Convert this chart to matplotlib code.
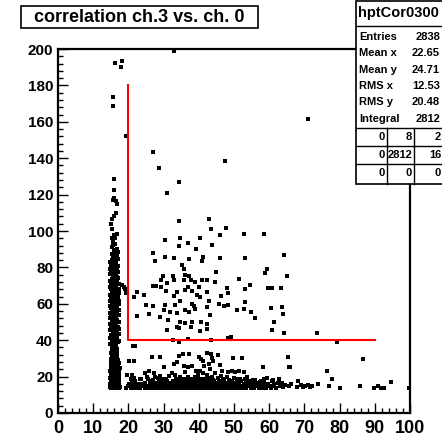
import numpy as np
import matplotlib
matplotlib.use("Agg")
import matplotlib.pyplot as plt
from matplotlib.patches import Rectangle
from matplotlib.lines import Line2D

plt.rcParams["font.family"] = ["Liberation Sans", "DejaVu Sans"]
plt.rcParams["font.weight"] = "bold"

W, H = 442, 438

# ── texts ──────────────────────────────────────────────────────────────────
title = "correlation ch.3 vs. ch. 0"
stats_name = "hptCor0300"
stats_labels = ["Entries", "Mean x", "Mean y", "RMS x", "RMS y", "Integral"]
stats_values = ["2838", "22.65", "24.71", "12.53", "20.48", "2812"]
overflow_table = [["0", "8", "2"], ["0", "2812", "16"], ["0", "0", "0"]]

x_ticks = list(range(0, 101, 10))
y_ticks = list(range(0, 201, 20))

# red cut line (L shape)
cut_x = [20, 20, 90]
cut_y = [180, 40, 40]

# ── scatter points ─────────────────────────────────────────────────────────
# dense column near x ~ 16, bottom part, rows of (y, [x ...])
column_rows = [
    (13.8, [15.0, 15.8, 16.6, 17.3]),
    (14.5, [14.8, 15.5, 16.2, 17.0, 17.6]),
    (15.3, [15.2, 16.0, 16.8]),
    (16.1, [14.9, 15.7, 16.4, 17.2]),
    (16.9, [15.3, 16.1, 16.9]),
    (17.8, [15.0, 15.8, 16.6, 17.4]),
    (18.6, [15.4, 16.2, 17.0]),
    (19.5, [14.9, 15.7, 16.5, 17.3]),
    (20.3, [15.3, 16.1, 16.9]),
    (21.2, [15.0, 15.8, 16.6, 17.4]),
    (22.0, [15.4, 16.2, 17.0]),
    (22.9, [14.9, 15.7, 16.5, 17.2]),
    (23.7, [15.3, 16.1, 16.8]),
    (24.6, [15.0, 15.8, 16.6, 17.5]),
    (25.4, [15.4, 16.3, 17.0]),
    (26.3, [15.1, 15.9, 16.7]),
    (27.2, [15.5, 16.3, 17.1]),
    (28.0, [15.0, 15.8, 16.6]),
    (28.9, [15.4, 16.2, 17.0]),
    (29.7, [15.1, 15.9, 16.7]),
    (30.6, [15.5, 16.4]),
    (31.5, [15.2, 16.0, 16.8]),
    (32.3, [15.6, 16.5]),
    (33.2, [15.1, 15.9, 16.9]),
    (34.0, [15.5, 16.3]),
    (34.9, [15.2, 16.1, 16.8]),
    (35.8, [15.6, 16.4]),
]

column_pts = [
    (15.3, 36.8), (16.6, 37.4), (15.9, 38.3), (17.1, 38.9), (15.2, 39.6),
    (16.3, 40.4), (15.7, 41.3), (16.9, 41.8), (15.1, 42.7), (16.0, 43.2),
    (16.7, 44.1), (15.5, 44.9), (16.2, 45.8), (15.0, 46.6), (17.0, 47.1),
    (15.8, 47.9), (16.5, 48.8), (15.3, 49.5), (16.1, 50.3), (16.9, 51.0),
    (15.6, 51.8), (15.1, 52.9), (16.4, 53.4), (15.9, 54.3), (16.8, 55.1),
    (15.4, 55.9), (16.2, 56.8), (15.0, 57.6), (15.8, 58.3), (16.6, 59.1),
    (15.3, 60.0), (16.1, 60.8), (17.2, 61.4), (15.6, 62.2), (16.4, 63.1),
    (15.1, 63.9), (15.9, 64.6), (16.8, 65.3), (15.4, 66.2), (16.2, 67.0),
    (15.0, 67.9), (17.4, 68.3), (15.7, 68.8), (16.5, 69.6), (15.3, 70.4),
    (16.1, 71.3), (15.8, 72.1), (16.7, 72.8), (15.2, 73.7), (16.0, 74.5),
    (15.5, 75.4), (16.4, 76.2), (15.1, 77.0), (15.9, 77.9), (16.6, 78.6),
    (15.4, 79.5), (16.2, 80.3), (15.0, 81.1), (15.7, 82.0), (16.5, 82.6),
    (15.3, 83.5), (16.0, 84.4), (15.6, 85.2), (16.8, 86.0),
    (16.0, 36.5), (15.6, 39.0), (16.9, 40.0), (15.5, 42.0), (16.4, 43.0),
    (15.9, 45.3), (16.6, 46.8), (15.4, 48.2), (16.0, 49.8), (15.3, 51.4),
    (16.6, 52.5), (15.7, 53.9), (16.1, 55.5), (15.2, 56.3), (16.9, 57.7),
    (15.7, 59.6), (16.3, 61.8), (15.8, 63.4), (16.5, 64.8), (15.6, 67.4),
    (16.3, 68.9), (15.0, 70.9), (16.4, 73.4), (15.7, 75.9), (16.3, 77.5),
    (15.6, 80.8), (16.6, 81.7), (15.2, 84.0),
    (14.8, 37.9), (17.4, 39.4), (14.9, 41.0), (17.3, 43.6), (14.8, 45.8),
    (17.2, 46.0), (14.9, 48.9), (17.4, 50.1), (14.8, 52.0), (17.3, 53.8),
    (14.9, 55.2), (17.2, 56.4), (14.8, 58.9), (17.4, 59.9), (14.9, 61.5),
    (17.1, 63.6), (14.8, 65.0), (17.3, 66.0), (14.9, 69.2), (17.2, 70.8),
    (14.8, 72.6), (17.0, 74.0), (14.9, 76.1), (17.1, 77.2), (14.8, 79.0),
    (17.0, 80.9), (14.9, 83.0), (17.1, 84.6), (16.0, 39.7), (16.3, 47.5),
    (15.8, 50.9), (16.2, 58.0), (15.5, 61.0), (16.7, 62.5), (15.9, 66.2),
    (16.9, 67.7), (15.5, 71.9), (16.8, 75.0), (15.4, 78.2), (16.9, 79.8),
    (16.1, 83.3), (15.9, 86.6),
    (15.4, 87.1), (16.3, 88.0), (17.1, 88.6), (15.8, 89.4), (16.9, 90.2),
    (15.2, 91.3), (15.6, 92.3), (16.1, 92.6), (15.7, 94.0), (16.2, 96.0),
    (16.8, 98.4), (15.3, 96.1), (16.0, 97.8), (15.4, 101.1), (15.1, 103.8),
    (15.4, 106.6), (15.8, 108.0), (16.5, 110.1), (16.7, 114.7), (16.5, 116.5),
    (16.0, 118.0), (15.6, 117.3), (15.8, 122.5), (15.9, 128.4),
    (15.5, 168.5), (15.6, 173.5), (16.2, 192.5), (18.3, 193.2), (17.8, 190.1),
    (19.3, 152.0), (18.1, 70.3), (18.8, 69.4), (19.0, 68.0), (19.3, 65.8),
    (17.4, 27.7),
]

# dense band along the bottom, rows of (y, [x ...])
band_rows = [
    (13.9, [19.4, 20.6, 21.5, 22.7, 23.4, 24.6, 25.3, 26.2, 27.1, 27.9, 28.8,
            29.5, 30.3, 31.0, 31.8, 32.5, 33.3, 34.0, 34.8, 35.5, 36.3, 37.0,
            37.8, 38.5, 39.3, 40.0, 40.8, 41.6, 42.3, 43.1, 43.9, 44.6, 45.4,
            46.2, 47.0, 47.9, 48.7, 49.6, 50.5, 51.6, 52.4, 53.5, 54.7, 55.6,
            57.0, 58.3, 59.1, 60.4, 61.8]),
    (14.8, [19.9, 21.1, 22.3, 23.9, 25.0, 25.9, 26.8, 27.6, 28.4, 29.1, 29.9,
            30.7, 31.4, 32.2, 32.9, 33.7, 34.4, 35.2, 35.9, 36.7, 37.4, 38.2,
            38.9, 39.7, 40.4, 41.2, 41.9, 42.7, 43.5, 44.2, 45.0, 45.8, 46.6,
            47.5, 48.3, 49.2, 50.1, 51.1, 52.0, 53.0, 54.1, 55.2, 56.4, 57.6,
            58.8, 60.0, 61.2, 63.0]),
    (15.7, [20.3, 21.8, 23.1, 24.2, 26.5, 27.3, 28.1, 29.7, 30.5, 31.2, 32.0,
            32.8, 33.5, 34.2, 35.0, 35.7, 36.5, 37.2, 38.0, 38.7, 39.5, 40.2,
            41.0, 41.7, 42.5, 43.3, 44.0, 44.8, 45.6, 46.4, 47.3, 48.1, 49.0,
            50.3, 51.5, 52.7, 54.0, 55.9, 57.2, 59.6, 61.5]),
    (16.6, [21.0, 24.8, 26.0, 27.8, 29.0, 30.1, 31.5, 32.4, 33.9, 34.7, 35.3,
            36.1, 37.6, 38.3, 39.1, 39.9, 40.6, 41.4, 42.1, 43.0, 43.8, 44.5,
            45.3, 46.1, 47.7, 48.6, 50.0, 51.2, 53.3, 55.0, 56.8, 58.5, 62.6]),
    (17.6, [22.0, 26.6, 28.6, 30.9, 32.7, 34.6, 36.0, 37.3, 38.8, 40.3, 41.5,
            42.9, 44.4, 45.7, 47.2, 49.4, 52.1, 54.4, 57.8, 60.9]),
    (18.5, [20.8, 23.7, 25.6, 29.8, 33.4, 36.6, 39.6, 41.9, 43.6, 46.8, 50.8,
            53.0]),
]

# scattered points below the cut (y < 40) and the right-hand tail
low_pts = [
    (21.2, 36.6), (21.9, 36.6), (20.2, 28.8), (21.6, 28.8), (26.8, 30.8),
    (29.1, 31.0), (34.5, 31.5), (35.5, 32.4), (37.2, 32.4), (40.0, 31.0),
    (40.5, 29.9), (41.1, 28.8), (42.3, 32.8), (43.4, 32.6), (45.5, 31.7),
    (43.7, 30.4), (43.9, 28.8), (49.7, 30.0), (52.3, 30.0), (65.2, 31.0),
    (65.8, 25.1), (58.2, 25.5), (19.6, 20.9), (21.1, 20.9), (24.7, 21.8),
    (25.9, 22.9), (27.4, 22.0), (30.0, 25.1), (32.9, 26.7), (33.8, 28.2),
    (35.9, 25.6), (37.0, 25.5), (38.0, 25.8), (39.3, 23.3), (40.2, 22.9),
    (41.5, 25.8), (43.0, 26.7), (43.3, 24.2), (46.0, 26.4), (46.6, 22.9),
    (48.4, 22.7), (49.5, 22.9), (50.4, 22.3), (51.4, 23.1), (52.9, 22.5),
    (48.1, 20.0), (48.6, 18.1), (47.7, 16.3), (27.6, 20.0), (28.5, 19.0),
    (29.5, 18.1), (32.3, 21.8), (33.2, 20.9), (34.7, 20.0), (36.1, 22.7),
    (37.0, 20.0), (38.2, 18.5), (39.9, 21.1), (41.3, 21.8), (42.2, 20.9),
    (43.7, 20.0), (44.6, 22.2), (45.5, 19.0), (56.0, 18.1), (57.4, 17.2),
    (59.3, 19.0), (62.8, 18.5), (63.5, 16.3), (68.1, 17.8), (69.5, 14.5),
    (21.5, 19.5), (23.2, 18.6), (25.4, 19.8), (27.0, 18.4), (28.9, 20.6),
    (30.8, 18.9), (31.6, 20.2), (35.4, 18.7), (36.9, 19.3), (38.9, 19.6),
    (40.7, 18.6), (42.8, 19.1), (44.1, 18.4), (46.3, 20.3), (47.3, 18.8),
    (49.9, 19.4), (51.6, 18.6), (53.8, 19.8), (55.3, 18.3), (58.6, 18.9),
    (61.2, 17.9), (32.7, 40.1), (34.4, 38.8), (37.0, 40.8), (43.5, 40.1),
    (63.8, 14.2), (64.5, 15.5), (65.5, 14.8), (66.3, 16.0), (67.9, 14.3),
    (68.9, 15.3), (70.2, 14.6), (70.9, 15.2), (71.6, 14.4), (72.3, 15.0),
    (74.0, 15.8), (77.1, 14.8), (77.8, 18.7), (80.0, 14.0), (85.8, 14.8),
    (89.7, 14.0), (91.0, 14.6), (91.9, 14.0), (92.7, 14.0), (94.7, 17.0),
    (99.6, 13.9), (68.2, 17.4), (65.7, 25.3), (65.3, 30.9), (76.3, 23.1),
    (86.6, 29.7), (79.4, 39.2),
]

# points inside the cut region (x > 20, y > 40) and the few high ones
box_pts = [
    (34.4, 127.0), (31.0, 120.9), (34.4, 105.5), (42.8, 106.8), (43.5, 100.9),
    (47.8, 101.8), (45.9, 98.0), (52.7, 98.5), (58.6, 98.3), (30.5, 95.0),
    (34.6, 96.0), (37.0, 93.6), (40.4, 96.2), (43.8, 92.5), (34.3, 92.0),
    (39.3, 90.3), (27.0, 88.0), (30.5, 85.5), (33.0, 85.3), (37.3, 84.8),
    (41.2, 85.9), (40.8, 83.7), (45.9, 85.3), (53.2, 85.2), (64.1, 87.0),
    (27.5, 83.7), (35.3, 81.5), (35.7, 78.9), (44.9, 77.7), (59.4, 79.1),
    (58.9, 77.1), (65.1, 75.1), (29.8, 75.3), (32.6, 75.3), (36.2, 75.8),
    (37.2, 75.3), (29.3, 73.3), (31.0, 71.2), (33.0, 72.9), (35.8, 72.9),
    (37.8, 73.1), (38.9, 72.2), (40.8, 73.1), (42.2, 72.9), (44.5, 71.8),
    (51.5, 73.6), (54.5, 70.1), (26.9, 69.6), (27.8, 70.0), (29.4, 69.4),
    (37.0, 69.4), (40.1, 69.0), (47.9, 68.5), (59.6, 68.5), (60.9, 68.7),
    (63.3, 68.5), (53.1, 68.1), (22.4, 66.3), (24.3, 64.8), (21.6, 63.9),
    (30.7, 67.0), (32.9, 64.5), (33.8, 66.7), (36.1, 67.6), (38.0, 66.8),
    (39.4, 64.8), (40.2, 63.9), (42.3, 66.3), (48.3, 65.8), (46.2, 64.3),
    (24.9, 59.5), (27.1, 59.0), (30.4, 59.2), (33.3, 59.3), (34.8, 61.7),
    (38.0, 59.9), (38.5, 58.8), (42.2, 58.4), (45.6, 59.7), (47.1, 59.0),
    (48.2, 59.2), (43.0, 61.7), (53.0, 61.0), (60.5, 57.9), (63.5, 58.1),
    (50.8, 56.8), (52.9, 57.1), (54.8, 55.7), (30.0, 56.6), (31.9, 55.7),
    (33.8, 54.8), (36.2, 56.6), (37.2, 55.5), (38.9, 57.1), (43.1, 53.7),
    (22.4, 53.5), (25.9, 54.4), (29.1, 52.9), (55.9, 52.2), (64.0, 54.4),
    (61.4, 50.2), (31.2, 51.1), (34.7, 50.2), (38.1, 50.0), (40.6, 49.8),
    (42.3, 48.9), (36.1, 49.3), (37.8, 47.4), (33.9, 47.4), (31.0, 45.4),
    (34.3, 46.7), (40.2, 44.9), (42.2, 46.3), (60.7, 45.6), (64.2, 44.0),
    (49.1, 41.8), (48.3, 41.4), (73.7, 44.1), (71.0, 161.5), (33.0, 199.0),
    (47.4, 138.5), (26.9, 143.2), (28.6, 134.5),
]

xs, ys = [], []
for y, row in column_rows + band_rows:
    xs += row
    ys += [y] * len(row)
for x, y in column_pts + low_pts + box_pts:
    xs.append(x)
    ys.append(y)
xs = np.array(xs)
ys = np.array(ys)


def fx(px):
    return px / W


def fy(py):
    return 1 - py / H


fig = plt.figure(figsize=(W / 100, H / 100), dpi=100)
ax = fig.add_axes([fx(58), fy(413), 352 / W, 364 / H])

ax.plot(xs, ys, linestyle="none", marker="s", markersize=2.2,
        markeredgewidth=0, color="black")
ax.plot(cut_x, cut_y, color="#ff0000", linewidth=1.5)

ax.set_xlim(0, 100)
ax.set_ylim(0, 200)
ax.set_xticks(x_ticks)
ax.set_yticks(y_ticks)
ax.set_xticks(np.arange(0, 101, 2), minor=True)
ax.set_yticks(np.arange(0, 201, 4), minor=True)
ax.tick_params(which="both", direction="in", top=False, right=False, width=1.0)
ax.tick_params(which="major", length=7.2)
ax.tick_params(which="minor", length=3.6)
ax.tick_params(axis="x", which="major", labelsize=13, pad=5)
ax.tick_params(axis="y", which="major", labelsize=11, pad=3.5)
for lab in ax.get_xticklabels() + ax.get_yticklabels():
    lab.set_fontweight("bold")
for sp in ax.spines.values():
    sp.set_linewidth(1.6)

# title box
fig.add_artist(Rectangle((fx(21), fy(28)), (258 - 21) / W, 22 / H,
                         transform=fig.transFigure, fill=False,
                         edgecolor="black", linewidth=1.2))
fig.text(fx(139), fy(17), title, ha="center", va="center",
         fontsize=13, fontweight="bold")

# stats box
sx0, sx1 = 356, 446
sbot = 184
fig.add_artist(Rectangle((fx(sx0), fy(sbot)), (sx1 - sx0) / W, (sbot - 1) / H,
                         transform=fig.transFigure, fill=True,
                         facecolor="white", edgecolor="black", linewidth=1.2))
fig.text(fx(358), fy(13), stats_name, ha="left", va="center",
         fontsize=10.5, fontweight="bold")
for py in [26, 128, 146, 164]:
    fig.add_artist(Line2D([fx(sx0), fx(sx1)], [fy(py), fy(py)],
                          transform=fig.transFigure, color="black",
                          linewidth=1.0))
for px in [387, 414]:
    fig.add_artist(Line2D([fx(px), fx(px)], [fy(128), fy(sbot)],
                          transform=fig.transFigure, color="black",
                          linewidth=1.0))
for i, (lab, val) in enumerate(zip(stats_labels, stats_values)):
    py = 37 + i * 16.3
    fig.text(fx(359), fy(py), lab, ha="left", va="center",
             fontsize=8, fontweight="bold")
    fig.text(fx(440), fy(py), val, ha="right", va="center",
             fontsize=8, fontweight="bold")
col_right = [385, 412, 441]
for r, row in enumerate(overflow_table):
    py = 137 + r * 18
    for c, val in enumerate(row):
        fig.text(fx(col_right[c]), fy(py), val, ha="right", va="center",
                 fontsize=8, fontweight="bold")

fig.savefig("out.png", dpi=100)
